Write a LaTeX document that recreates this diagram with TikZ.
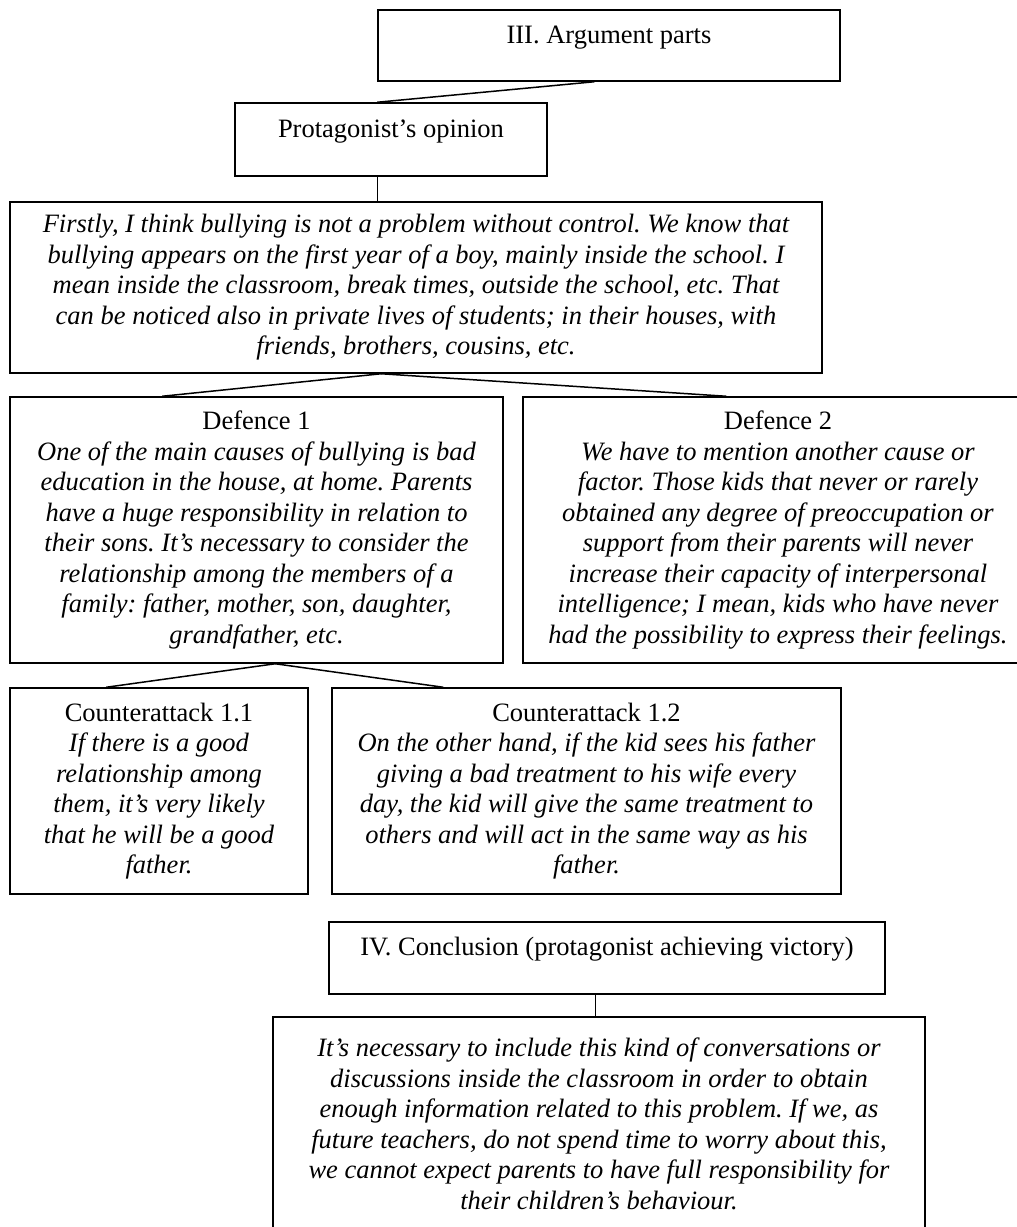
\documentclass[tikz,border=0pt]{standalone}
\usepackage{fontspec}
\setmainfont{Liberation Serif}
\frenchspacing
\begin{document}
\begin{tikzpicture}[x=1pt,y=-1pt,
  box/.style={draw, line width=1.5pt, rectangle, inner sep=0pt, align=center,
    font=\fontsize{26.5}{30.5}\selectfont},
  italbox/.style={box, font=\fontsize{26.5}{30.5}\selectfont\itshape},
  headbox/.style={box, text height=19pt, text depth=24pt},
  link/.style={line width=1.5pt}]
\useasboundingbox (0,0) rectangle (1017,1227);
\clip (0,0) rectangle (1017,1227);

\node[headbox, minimum width=462, minimum height=71] (arg) at (609,45.5) {III. Argument parts};
\node[headbox, minimum width=312, minimum height=73] (prot) at (391,139.5) {Protagonist’s opinion};
\node[italbox, minimum width=812, minimum height=171] (first) at (416,287.5) {%
Firstly, I think bullying is not a problem without control. We know that\\
bullying appears on the first year of a boy, mainly inside the school. I\\
mean inside the classroom, break times, outside the school, etc. That\\
can be noticed also in private lives of students; in their houses, with\\
friends, brothers, cousins, etc.};

\node[box, minimum width=493, minimum height=266] (def1) at (256.5,530) {Defence 1\\
\textit{One of the main causes of bullying is bad}\\
\textit{education in the house, at home. Parents}\\
\textit{have a huge responsibility in relation to}\\
\textit{their sons. It’s necessary to consider the}\\
\textit{relationship among the members of a}\\
\textit{family: father, mother, son, daughter,}\\
\textit{grandfather, etc.}};

\node[box, minimum width=510, minimum height=266] (def2) at (778,530) {Defence 2\\
\textit{We have to mention another cause or}\\
\textit{factor. Those kids that never or rarely}\\
\textit{obtained any degree of preoccupation or}\\
\textit{support from their parents will never}\\
\textit{increase their capacity of interpersonal}\\
\textit{intelligence; I mean, kids who have never}\\
\textit{had the possibility to express their feelings.}};

\node[box, minimum width=298, minimum height=206] (c11) at (159,791) {Counterattack 1.1\\
\textit{If there is a good}\\
\textit{relationship among}\\
\textit{them, it’s very likely}\\
\textit{that he will be a good}\\
\textit{father.}};

\node[box, minimum width=509, minimum height=206] (c12) at (586.5,791) {Counterattack 1.2\\
\textit{On the other hand, if the kid sees his father}\\
\textit{giving a bad treatment to his wife every}\\
\textit{day, the kid will give the same treatment to}\\
\textit{others and will act in the same way as his}\\
\textit{father.}};

\node[headbox, minimum width=556, minimum height=72] (conc) at (607,958) {IV. Conclusion (protagonist achieving victory)};

\node[italbox, minimum width=652, minimum height=214] (fin) at (599,1124) {%
It’s necessary to include this kind of conversations or\\
discussions inside the classroom in order to obtain\\
enough information related to this problem. If we, as\\
future teachers, do not spend time to worry about this,\\
we cannot expect parents to have full responsibility for\\
their children’s behaviour.};

\draw[link] ([xshift=217pt]arg.south west) -- ([xshift=143pt]prot.north west);
\draw[link] ([xshift=143pt]prot.south west) -- ([xshift=368pt]first.north west);
\draw[link] ([xshift=372pt]first.south west) -- ([xshift=153pt]def1.north west);
\draw[link] ([xshift=372pt]first.south west) -- ([xshift=204pt]def2.north west);
\draw[link] ([xshift=266pt]def1.south west) -- ([xshift=97pt]c11.north west);
\draw[link] ([xshift=266pt]def1.south west) -- ([xshift=112pt]c12.north west);
\draw[link] ([xshift=267pt]conc.south west) -- ([xshift=323pt]fin.north west);
\end{tikzpicture}
\end{document}
